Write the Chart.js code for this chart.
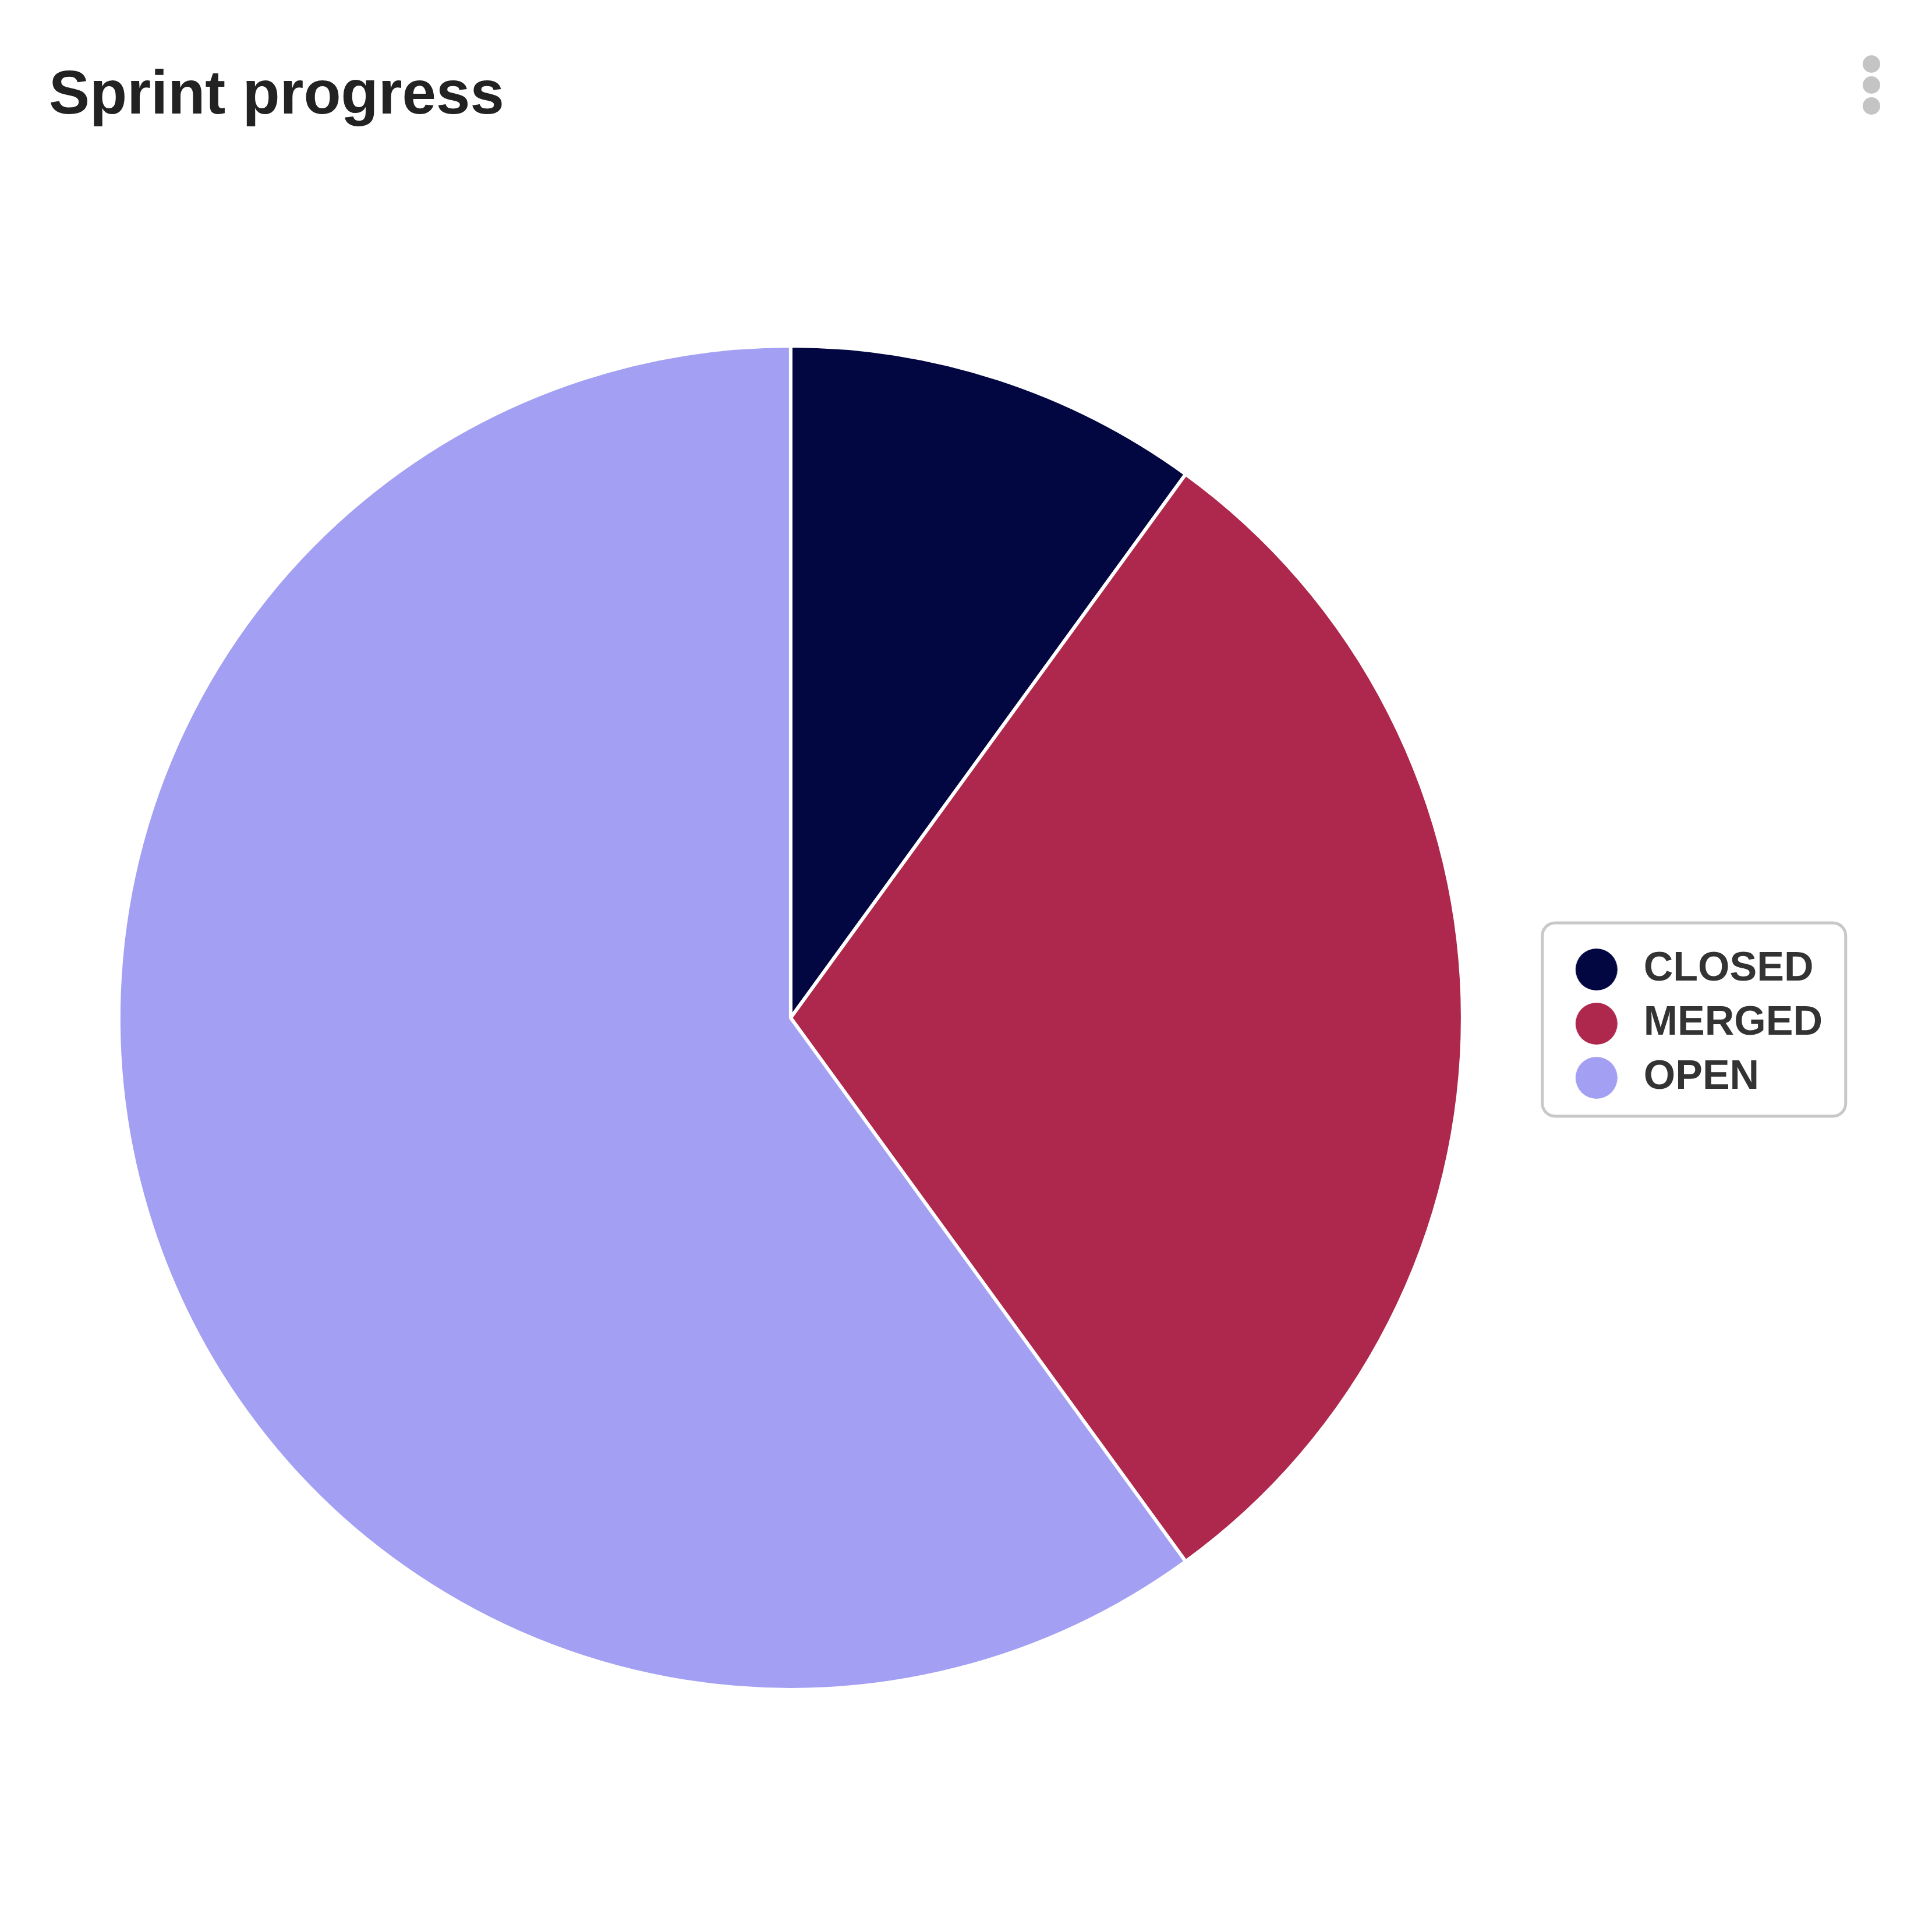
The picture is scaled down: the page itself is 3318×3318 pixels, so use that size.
<!DOCTYPE html>
<html>
<head>
<meta charset="utf-8">
<title>Sprint progress</title>
<script src="https://cdn.jsdelivr.net/npm/chart.js@4.4.1/dist/chart.umd.min.js"></script>
<style>
    html, body { margin: 0; padding: 0; background: #fff; }
    body { width: 3318px; height: 3318px; position: relative; overflow: hidden;
           font-family: 'Liberation Sans', Arial, sans-serif; }
    #title { position: absolute; left: 84px; top: 106px; margin: 0; font-size: 105px;
             line-height: 1; font-weight: bold; color: #222; }
    .menu { position: absolute; left: 3199px; top: 95px; width: 30px; }
    .menu span { display: block; width: 30px; height: 30px; border-radius: 50%;
                 background: #c4c4c4; margin-bottom: 6px; }
    #sprintChart { position: absolute; left: 0; top: 0; }
</style>
</head>
<body>
<h1 id="title">Sprint progress</h1>
<div class="menu"><span></span><span></span><span></span></div>
<canvas id="sprintChart" width="3318" height="3318"></canvas>

<script>
const labels = ['CLOSED', 'MERGED', 'OPEN'];
const counts = [1, 3, 6];
const colors = ['#020742', '#ae274c', '#a3a0f4'];

// round dot used as legend marker
function dotImage(color) {
    const c = document.createElement('canvas');
    c.width = 74;
    c.height = 74;
    const g = c.getContext('2d');
    g.fillStyle = color;
    g.beginPath();
    g.arc(37, 37, 36, 0, Math.PI * 2);
    g.fill();
    return c;
}
const dots = colors.map(dotImage);

// rounded grey frame around the legend
const legendFrame = {
    id: 'legendFrame',
    afterDraw(chart) {
        const lg = chart.legend;
        if (!lg) return;
        const ctx = chart.ctx;
        const mid = (lg.top + lg.bottom) / 2;
        const x = lg.left - 24;
        const y = mid - 163;
        ctx.save();
        ctx.strokeStyle = '#c8c8c8';
        ctx.lineWidth = 5;
        ctx.beginPath();
        if (ctx.roundRect) {
            ctx.roundRect(x, y, 521, 332, 22);
        } else {
            ctx.rect(x, y, 521, 332);
        }
        ctx.stroke();
        ctx.restore();
    }
};

document.addEventListener('DOMContentLoaded', function() {
    Chart.defaults.font.family = "'Liberation Sans', Arial, sans-serif";
    const ctx = document.getElementById('sprintChart').getContext('2d');
    window.sprintChart = new Chart(ctx, {
        type: 'pie',
        data: {
            labels: labels,
            datasets: [{
                data: counts,
                backgroundColor: colors,
                borderColor: '#ffffff',
                borderWidth: 6,
                hoverOffset: 0
            }]
        },
        options: {
            responsive: false,
            devicePixelRatio: 1,
            animation: false,
            events: [],
            layout: {
                padding: { top: 591, bottom: 413, left: 43, right: 178 }
            },
            plugins: {
                tooltip: { enabled: false },
                legend: {
                    position: 'right',
                    // blank title, only nudges the items down a little
                    title: {
                        display: true,
                        text: ' ',
                        font: { size: 10 },
                        padding: 4
                    },
                    labels: {
                        usePointStyle: true,
                        pointStyleWidth: 92,
                        padding: 23,
                        color: '#333333',
                        font: { size: 70, weight: 'bold' },
                        generateLabels: function(chart) {
                            const items = Chart.overrides.doughnut.plugins.legend.labels.generateLabels(chart);
                            items.forEach(function(item, i) {
                                item.pointStyle = dots[i];
                            });
                            return items;
                        }
                    }
                }
            }
        },
        plugins: [legendFrame]
    });
});
</script>
</body>
</html>
